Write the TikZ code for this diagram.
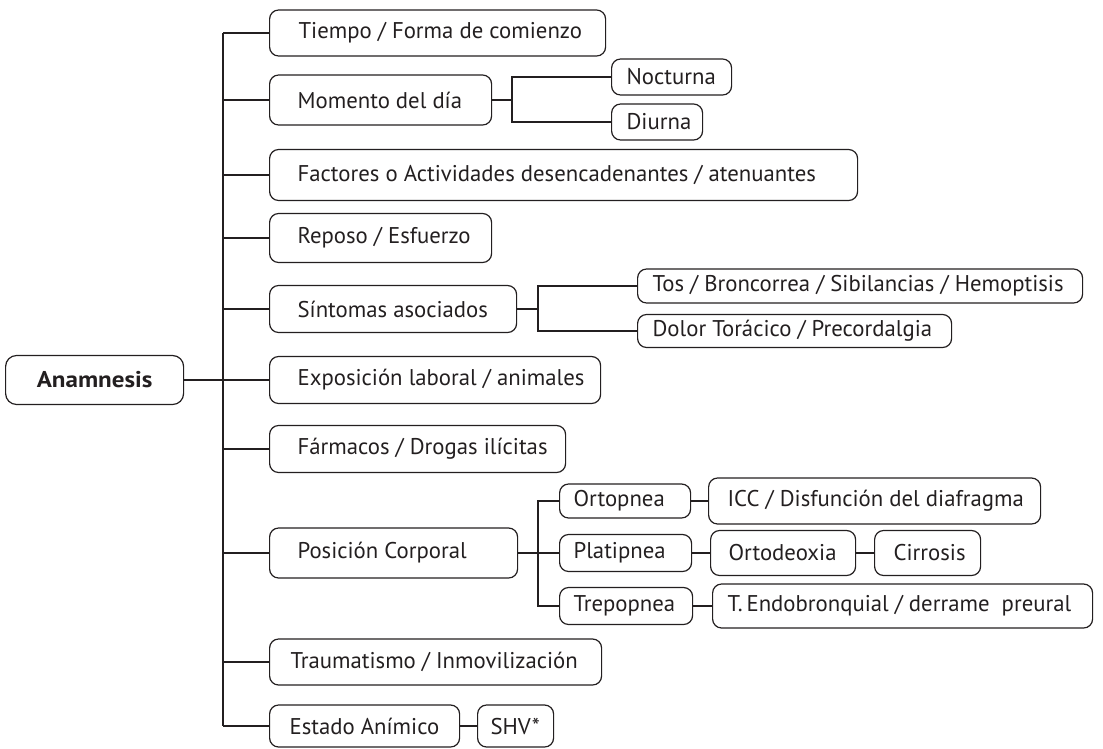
\documentclass[tikz,border=0pt]{standalone}
\usepackage{fontspec}
\usepackage{graphicx}
\setmainfont{PT Sans}
\definecolor{ink}{RGB}{35,31,32}
% box content: fixed width, text set flush left after a given indent
\newcommand{\boxtext}[3]{\makebox[#1][l]{\hspace*{#2}#3}}
\begin{document}
\begin{tikzpicture}[x=1pt,y=-1pt,
  every node/.style={text=ink},
  bx/.style={draw=ink, line width=1.2pt, rounded corners=9pt, anchor=west,
    inner xsep=0pt, inner ysep=0pt,
    font=\fontsize{22.75}{26}\selectfont},
  root/.style={draw=ink, line width=1.2pt, rounded corners=11pt, anchor=west,
    inner sep=0pt, font=\fontsize{22.75}{26}\selectfont\bfseries},
  wire/.style={draw=ink, line width=1.2pt}]
\useasboundingbox (0,0) rectangle (1103,748);

% root
\node[root, minimum width=178pt, minimum height=49pt] (anam) at (5,380) {\scalebox{1.1}[1]{Anamnesis}};

% first level
\node[bx, minimum height=46pt] (tiem) at (269,33) {\boxtext{336pt}{29pt}{Tiempo / Forma de comienzo}};
\node[bx, minimum height=50pt] (mom) at (269,100) {\boxtext{222pt}{28pt}{Momento del día}};
\node[bx, minimum height=51pt] (fac) at (269,175) {\boxtext{588pt}{28pt}{Factores o Actividades desencadenantes / atenuantes}};
\node[bx, minimum height=49pt] (rep) at (269,238) {\boxtext{222pt}{28pt}{Reposo / Esfuerzo}};
\node[bx, minimum height=47pt] (sin) at (269,309) {\boxtext{247pt}{28pt}{Síntomas asociados}};
\node[bx, minimum height=47pt] (expo) at (269,380) {\boxtext{331pt}{28pt}{Exposición laboral / animales}};
\node[bx, minimum height=47pt] (far) at (269,449) {\boxtext{296pt}{28pt}{Fármacos / Drogas ilícitas}};
\node[bx, minimum height=50pt] (pos) at (269,553) {\boxtext{248pt}{28pt}{Posición Corporal}};
\node[bx, minimum height=46pt] (tra) at (269,662) {\boxtext{332pt}{21pt}{Traumatismo / Inmovilización}};
\node[bx, minimum height=42pt] (est) at (269,726) {\boxtext{190pt}{20pt}{Estado Anímico}};

% second level
\node[bx, minimum height=36pt] (noc) at (611,77) {\boxtext{120pt}{15pt}{Nocturna}};
\node[bx, minimum height=36pt] (diu) at (611,122) {\boxtext{91pt}{15pt}{Diurna}};
\node[bx, minimum height=34pt] (tos) at (637,286) {\boxtext{445pt}{15pt}{Tos / Broncorrea / Sibilancias / Hemoptisis}};
\node[bx, minimum height=33pt] (dol) at (637,331) {\boxtext{314pt}{15pt}{Dolor Torácico / Precordalgia}};
\node[bx, minimum height=34pt] (ort) at (559,501) {\boxtext{131pt}{14pt}{Ortopnea}};
\node[bx, minimum height=37pt] (pla) at (559,553) {\boxtext{132pt}{14pt}{Platipnea}};
\node[bx, minimum height=37pt] (tre) at (559,606) {\boxtext{133pt}{14pt}{Trepopnea}};
\node[bx, minimum height=46pt] (icc) at (708,501) {\boxtext{332pt}{19pt}{ICC / Disfunción del diafragma}};
\node[bx, minimum height=45pt] (odx) at (710,553) {\boxtext{145pt}{18pt}{Ortodeoxia}};
\node[bx, minimum height=45pt] (cir) at (874,553) {\boxtext{106pt}{19pt}{Cirrosis}};
\node[bx, minimum height=44pt] (ten) at (712,606) {\boxtext{380pt}{15pt}{T.\,Endobronquial / derrame\ \ preural}};
\node[bx, minimum height=42pt] (shv) at (477,726) {\boxtext{76pt}{13pt}{SHV*}};

% trunk
\coordinate (tt) at (223,33);
\coordinate (tb) at (223,726);
\draw[wire] (tt) -- (tb);
\draw[wire] (anam.east) -- (expo.west);
\foreach \n in {tiem,mom,fac,rep,sin,far,pos,tra,est}
  \draw[wire] (\n.west) -- (\n.west -| tt);

% branches
\coordinate (mb) at (512,100);
\draw[wire] (mom.east) -- (mb);
\draw[wire] (noc.west) -| (mb) |- (diu.west);

\coordinate (sb) at (538,309);
\draw[wire] (sin.east) -- (sb);
\draw[wire] (tos.west) -| (sb) |- (dol.west);

\coordinate (pb) at (538,553);
\draw[wire] (pos.east) -- (pla.west);
\draw[wire] (ort.west) -| (pb) |- (tre.west);

\draw[wire] (ort.east) -- (icc.west);
\draw[wire] (pla.east) -- (odx.west);
\draw[wire] (odx.east) -- (cir.west);
\draw[wire] (tre.east) -- (ten.west);
\draw[wire] (est.east) -- (shv.west);
\end{tikzpicture}
\end{document}
